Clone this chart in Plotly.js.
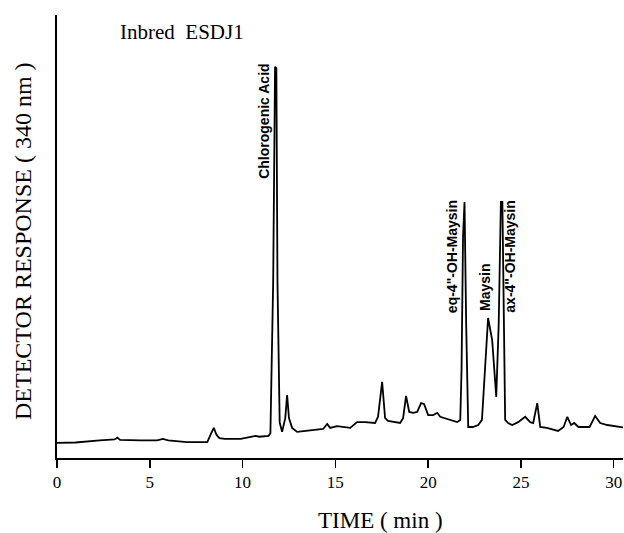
<!DOCTYPE html>
<html>
<head>
<meta charset="utf-8">
<script src="https://cdn.plot.ly/plotly-3.0.1.min.js"></script>
<style>html,body{margin:0;padding:0;background:#fff;}#chart{width:624px;height:533px;}</style>
</head>
<body>
<div id="chart"></div>
<script>
// Retention time (min)
const timeMin = [0,1,2.3,3.1,3.25,3.4,4.5,5.4,5.7,6.0,7.0,8.1,8.3,8.45,8.6,8.75,9.05,9.9,10.7,10.9,11.4,11.5,11.65,11.75,11.82,11.88,12.0,12.13,12.3,12.4,12.5,12.67,12.94,13.8,14.34,14.56,14.72,15.09,15.8,16.17,16.6,17.14,17.3,17.52,17.68,17.84,18.11,18.49,18.65,18.81,18.98,19.19,19.41,19.62,19.78,20.0,20.27,20.49,20.65,21.19,21.56,21.73,21.8,21.88,21.96,22.05,22.16,22.4,22.7,22.9,23.23,23.45,23.67,23.8,23.92,24.0,24.1,24.15,24.31,24.53,24.85,25.23,25.5,25.66,25.88,26.04,26.4,27.0,27.3,27.5,27.7,27.87,28.1,28.7,29.0,29.27,29.65,30.35,30.5];
// Detector response (relative units)
const response = [3.4,3.5,4.0,4.2,4.6,4.1,4.0,4.0,4.3,4.0,3.6,3.6,5.5,6.8,5.2,4.5,4.3,4.3,5.0,4.8,5.0,5.6,40,88.3,88.0,40,8,5.9,9,14.2,9,6.8,5.9,6.3,6.55,7.7,6.8,7.2,6.8,8.1,8.1,7.9,9.3,17.2,9.0,8.35,8.1,7.9,9.0,14.0,10.4,10.2,10.4,12.4,12.2,9.7,9.7,10.2,9.3,8.6,8.1,8.6,20,50,57.8,30,7.0,7.0,7.45,8.6,31.6,26.6,13.8,30,57.8,57.8,20,8.6,7.9,7.45,8.1,9.3,8.1,7.9,12.4,7.0,6.8,6.1,7.0,9.3,7.45,7.9,7.0,7.0,9.5,7.9,7.45,7.0,6.9];
// Peak labels
const peakNames = ['Chlorogenic Acid','eq-4"-OH-Maysin','Maysin','ax-4"-OH-Maysin'];
const peakLabelX = [11.15,21.3,23.07,24.4];
const peakLabelY = [76.1,45.4,38.4,45.4];
const xTicks = [0,5,10,15,20,25,30];

const serif = 'Liberation Serif, Times New Roman, serif';
const annotations = peakNames.map((t,i)=>({
  text: t, x: peakLabelX[i], y: peakLabelY[i], xref:'x', yref:'y',
  textangle: -90, showarrow:false, xanchor:'center', yanchor:'middle',
  font:{family:'Liberation Sans Narrow, Arial Narrow, sans-serif', size:14, color:'#000', weight:'bold'}
}));
annotations.push({text:'Inbred  ESDJ1', xref:'paper', yref:'paper', x:0.22, y:0.962, showarrow:false,
  xanchor:'center', yanchor:'middle', font:{family:serif, size:21, color:'#000'}});
annotations.push({text:'DETECTOR RESPONSE ( 340 nm )', xref:'paper', yref:'paper', x:-0.06, y:0.49, showarrow:false,
  textangle:-90, xanchor:'center', yanchor:'middle', font:{family:serif, size:24, color:'#000'}});
annotations.push({text:'TIME ( min )', xref:'paper', yref:'paper', x:0.571, y:-0.142, showarrow:false,
  xanchor:'center', yanchor:'middle', font:{family:serif, size:23, color:'#000'}});

Plotly.newPlot('chart', [{
  x: timeMin, y: response, type:'scatter', mode:'lines',
  line:{color:'#000', width:1.8, shape:'linear'}, hoverinfo:'none'
}], {
  width:624, height:533,
  margin:{l:57, r:1, t:15, b:75},
  paper_bgcolor:'#fff', plot_bgcolor:'#fff',
  showlegend:false,
  xaxis:{range:[0,30.5], showgrid:false, zeroline:false, showline:true, linecolor:'#000', linewidth:2,
    ticks:'outside', ticklen:8, tickwidth:1.5, tickcolor:'#000', tickvals:xTicks, ticktext:xTicks.map(String),
    tickfont:{family:serif, size:17, color:'#000'}},
  yaxis:{range:[0,100], showgrid:false, zeroline:false, showline:true, linecolor:'#000', linewidth:2,
    showticklabels:false, ticks:''},
  annotations: annotations
}, {staticPlot:true});
</script>
</body>
</html>
